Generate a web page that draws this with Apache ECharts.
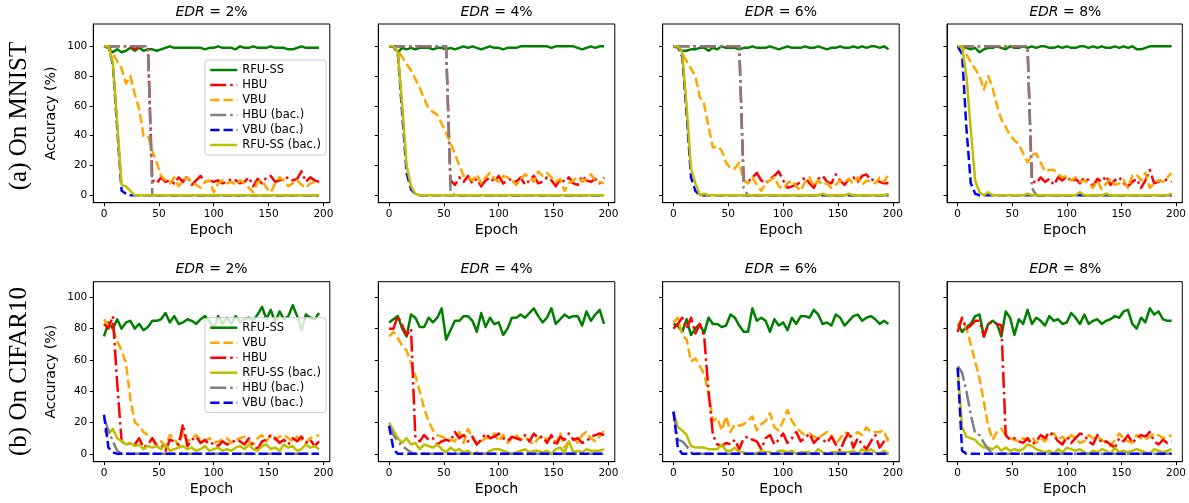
<!DOCTYPE html>
<html>
<head>
<meta charset="utf-8">
<script src="https://cdn.jsdelivr.net/npm/echarts@6/dist/echarts.min.js"></script>
<style>
html,body{margin:0;padding:0;background:#fff;}
#chart{width:1189px;height:503px;}
</style>
</head>
<body>
<div id="chart"></div>
<script>
// ---------- x values (epochs) ----------
const epochs = [0,4,8,12,16,20,24,28,32,36,40,44,48,52,56,60,64,68,72,76,80,84,88,92,96,100,104,108,112,116,120,124,128,132,136,140,144,148,152,156,160,164,168,172,176,180,184,188,192,196];
const xTicks = [0,50,100,150,200];
const yTicks = [0,20,40,60,80,100];
const edrLabels = ['2%','4%','6%','8%'];
const rowLabels = ['(a) On MNIST','(b) On CIFAR10'];
const topOrder = ['RFU-SS','HBU','VBU','HBU (bac.)','VBU (bac.)','RFU-SS (bac.)'];
const botOrder = ['RFU-SS','VBU','HBU','RFU-SS (bac.)','HBU (bac.)','VBU (bac.)'];

// ---------- MNIST, EDR 2% ----------
const m2_rfu = [100,99,96,98,96,97,99,97,99,97, 98,98,97,98,99,100,99,99,99,99, 99,99,99,98,99,99,100,99,99,99, 98,100,99,99,100,99,99,99,100,99, 99,99,98,98,99,100,99,99,99,99];
const m2_hbu = [100,99,100,100,100,100,100,98,100,100, 99,10,8,12,9,10,8,12,9,13, 7,10,13,9,10,9,10,8,9,11, 10,8,9,12,6,11,8,12,13,9, 10,11,12,10,11,16,9,12,10,9];
const m2_vbu = [100,99,95,90,85,75,80,68,58,40, 40,30,22,13,10,8,12,6,10,12, 8,7,5,9,10,2,8,10,8,9, 7,10,8,5,2,9,10,5,2,8, 12,10,6,8,10,7,5,8,9,8];
const m2_hbub = [100,100,100,100,100,100,100,100,100,100, 100,0,0,0,0,0,0,0,0,0, 0,0,0,0,0,0,0,0,0,0, 0,0,0,0,0,0,0,0,0,0, 0,0,0,0,0,0,0,0,0,0];
const m2_vbub = [100,100,88,45,3,1,0,0,0,0, 0,0,0,0,0,0,0,0,0,0, 0,0,0,0,0,0,0,0,0,0, 0,0,0,0,0,0,0,0,0,0, 0,0,0,0,0,0,0,0,0,0];
const m2_rfub = [100,100,89,48,7,6,3,0,0,0, 0,0,0,0,0,0,0,0,0,0, 0,0,0,0,0,0,0,0,0,0, 0,0,0,0,0,0,0,0,0,0, 0,0,0,0,0,0,0,0,0,0];

// ---------- MNIST, EDR 4% ----------
const m4_rfu = [100,100,96,99,98,99,98,99,99,99, 98,99,99,98,99,98,99,100,99,100, 99,98,99,100,99,99,98,99,99,99, 100,100,100,100,100,100,100,99,100,100, 100,100,100,99,98,99,100,99,100,100];
const m4_hbu = [100,100,100,100,100,100,100,100,100,100, 100,100,100,100,10,7,12,9,13,8, 11,6,10,12,9,13,8,10,11,9, 12,7,10,13,8,9,12,10,6,11, 9,12,8,7,13,10,9,11,8,12];
const m4_vbu = [100,100,97,93,88,84,78,72,65,58, 56,54,48,42,35,28,20,13,12,10, 14,8,12,15,11,9,13,12,10,7, 11,14,12,9,16,13,15,12,9,11, 3,8,10,12,9,11,14,10,9,8];
const m4_hbub = [100,100,100,100,100,100,100,100,100,100, 100,100,100,100,3,0,0,0,0,0, 0,0,0,0,0,0,0,0,0,0, 0,0,0,0,0,0,0,0,0,0, 0,0,0,0,0,0,0,0,0,0];
const m4_vbub = [100,100,95,55,15,4,1,0,0,0, 0,0,0,0,0,0,0,0,0,0, 0,0,0,0,0,0,0,0,0,0, 0,0,0,0,0,0,0,0,0,0, 0,0,0,0,0,0,0,0,0,0];
const m4_rfub = [100,100,96,60,20,6,1,0,0,0, 0,0,0,0,0,0,0,0,0,0, 0,0,0,0,0,0,0,0,0,0, 0,0,0,0,0,0,0,0,0,0, 0,0,0,0,0,0,0,0,0,0];

// ---------- MNIST, EDR 6% ----------
const m6_rfu = [100,99,97,97,98,98,99,99,97,99, 98,100,99,99,99,98,99,99,100,99, 99,99,100,99,98,99,100,99,99,99, 100,99,99,100,99,98,99,99,100,99, 99,100,99,100,99,100,100,99,100,98];
const m6_hbu = [100,100,100,100,100,100,100,100,100,100, 100,100,100,100,100,100,10,9,12,15, 10,8,11,13,16,10,5,6,7,9, 12,8,5,11,13,9,8,14,10,7, 11,12,9,13,14,10,11,9,8,8];
const m6_vbu = [100,99,95,90,85,80,66,61,46,32, 33,30,22,18,18,22,10,8,12,7, 3,8,10,12,6,4,8,10,6,3, 9,12,6,10,7,8,5,7,10,9, 11,8,12,7,10,9,8,12,9,14];
const m6_hbub = [100,100,100,100,100,100,100,100,100,100, 100,100,100,100,100,100,5,0,0,0, 0,0,0,0,0,0,0,0,0,0, 0,0,0,0,0,0,0,0,0,0, 0,0,0,0,0,0,0,0,0,0];
const m6_vbub = [100,100,93,55,12,3,0,0,0,0, 0,0,0,0,0,0,0,0,0,0, 0,0,0,0,0,0,0,0,0,0, 0,0,0,0,0,0,0,0,0,0, 0,0,0,0,0,0,0,0,0,0];
const m6_rfub = [100,100,96,60,18,8,0,1,0,0, 0,0,0,0,0,0,0,0,0,0, 0,0,0,0,0,0,0,0,0,0, 0,0,0,0,1,0,0,0,0,0, 1,0,0,0,0,0,0,0,0,1];

// ---------- MNIST, EDR 8% ----------
const m8_rfu = [100,100,99,98,99,96,98,99,99,100, 99,98,100,99,99,100,99,100,99,100, 100,99,99,100,99,100,99,99,100,100, 99,100,99,100,99,99,100,99,100,99, 100,98,98,99,100,100,100,100,100,100];
const m8_hbu = [100,100,100,100,100,100,100,100,100,100, 100,100,100,100,100,100,100,10,8,12, 9,11,7,12,10,13,9,11,8,12, 10,6,11,9,13,7,10,12,8,6, 9,11,5,10,17,8,9,11,10,9];
const m8_vbu = [100,100,95,89,85,80,71,80,72,60, 51,46,40,37,34,28,22,27,28,22, 16,17,17,14,12,13,10,12,9,10, 8,5,10,4,8,11,7,8,10,5, 13,14,10,15,5,8,10,9,12,15];
const m8_hbub = [100,100,100,100,100,100,100,100,100,100, 100,100,100,100,100,100,100,5,0,0, 0,0,0,0,0,0,0,0,0,0, 0,0,0,0,0,0,0,0,0,0, 0,0,0,0,0,0,0,0,0,0];
const m8_vbub = [100,95,45,8,1,0,0,0,0,0, 0,0,0,0,0,0,0,0,0,0, 0,0,0,0,0,0,0,0,0,0, 0,0,0,0,0,0,0,0,0,0, 0,0,0,0,0,0,0,0,0,0];
const m8_rfub = [100,100,80,44,10,2,0,2,0,0, 0,0,0,0,0,0,1,0,0,0, 0,0,0,0,0,0,0,0,2,0, 0,0,0,0,1,0,0,0,0,0, 0,0,0,0,0,0,0,0,0,1];

// ---------- CIFAR10, EDR 2% ----------
const c2_rfu = [75,84,80,86,80,84,85,80,83,79, 81,85,85,86,90,84,88,83,84,86, 85,83,86,88,85,80,88,83,87,83, 88,84,86,87,85,89,94,86,92,84, 91,86,88,95,88,79,89,87,86,90];
const c2_vbu = [86,82,80,72,66,58,35,20,18,14, 12,10,6,8,5,12,10,5,14,8, 10,12,9,8,10,7,8,9,10,7, 9,10,11,8,6,10,12,8,12,9, 11,12,10,8,11,9,7,10,11,12];
const c2_hbu = [83,80,88,45,8,6,7,6,10,4, 6,10,5,6,2,9,8,6,19,5, 9,11,7,9,6,7,5,8,6,7, 9,8,6,10,5,3,8,9,12,10, 7,9,6,10,8,11,7,9,5,8];
const c2_rfub = [15,13,16,10,8,6,7,5,6,3, 5,4,5,3,6,2,3,4,5,3, 4,2,3,5,2,3,4,2,3,2, 4,5,3,6,3,2,5,6,3,4, 2,6,4,5,2,3,6,4,5,3];
const c2_hbub = [23,15,8,2,0,0,0,0,0,0, 0,0,0,0,0,0,0,0,0,0, 0,0,0,0,0,0,0,0,0,0, 0,0,0,0,0,0,0,0,0,0, 0,0,0,0,0,0,0,0,0,0];
const c2_vbub = [25,4,1,0,0,0,0,0,0,0, 0,0,0,0,0,0,0,0,0,0, 0,0,0,0,0,0,0,0,0,0, 0,0,0,0,0,0,0,0,0,0, 0,0,0,0,0,0,0,0,0,0];

// ---------- CIFAR10, EDR 4% ----------
const c4_rfu = [84,86,88,80,75,89,87,81,81,87, 84,87,93,73,79,85,85,88,88,85, 78,90,81,87,83,84,76,80,87,87, 89,87,90,93,88,84,87,93,83,86, 89,87,88,88,82,91,85,89,92,83];
const c4_vbu = [75,78,74,69,66,58,50,40,29,21, 15,12,11,10,9,8,14,7,16,10, 6,8,10,11,13,8,12,7,10,12, 9,11,8,6,10,12,9,11,7,13, 4,8,10,7,12,14,10,8,11,15];
const c4_hbu = [80,80,88,82,76,80,10,8,12,9, 10,6,8,9,8,14,10,12,8,11, 6,9,13,10,11,13,10,8,11,10, 9,12,8,13,10,11,7,12,5,11, 9,13,9,10,7,8,11,12,13,12];
const c4_rfub = [20,15,10,7,10,6,7,3,6,5, 4,6,3,1,4,2,3,1,2,0, 1,0,0,2,3,3,2,1,0,1, 2,3,1,2,2,1,2,0,3,4, 1,8,1,2,1,3,2,2,2,3];
const c4_hbub = [18,12,8,5,3,1,0,0,0,0, 0,0,0,0,0,0,0,0,0,0, 0,0,0,0,0,0,0,0,0,0, 0,0,0,0,0,0,0,0,0,0, 0,0,0,0,0,0,0,0,0,0];
const c4_vbub = [18,3,0,0,0,0,0,0,0,0, 0,0,0,0,0,0,0,0,0,0, 0,0,0,0,0,0,0,0,0,0, 0,0,0,0,0,0,0,0,0,0, 0,0,0,0,0,0,0,0,0,0];

// ---------- CIFAR10, EDR 6% ----------
const c6_rfu = [83,82,78,86,76,80,83,77,87,83, 83,81,82,89,87,82,78,78,93,85, 87,85,78,86,82,84,79,87,83,88, 88,87,92,89,83,84,82,89,87,82, 85,88,89,85,87,88,86,83,85,83];
const c6_vbu = [84,87,76,73,59,61,56,51,38,21, 23,15,24,14,19,18,19,21,24,15, 19,21,26,17,15,21,28,21,17,14, 12,13,11,10,12,14,12,6,10,14, 12,11,14,12,17,14,14,14,15,7];
const c6_hbu = [80,83,87,80,87,77,83,75,40,12, 6,5,7,6,9,3,10,11,9,8, 3,10,12,6,9,13,7,10,14,8, 10,13,7,10,9,7,11,6,2,9, 14,4,10,6,3,8,12,4,8,10];
const c6_rfub = [27,17,15,12,5,4,4,4,3,3, 3,6,2,2,4,1,1,0,0,0, 2,1,1,0,2,2,1,2,0,1, 1,1,0,3,1,0,1,1,1,1, 1,2,0,3,1,3,1,0,2,0];
const c6_hbub = [27,9,8,5,1,0,0,0,0,0, 0,0,0,0,0,0,0,0,0,0, 0,0,0,0,0,0,0,0,0,0, 0,0,0,0,0,0,0,0,0,0, 0,0,0,0,0,0,0,0,0,0];
const c6_vbub = [27,4,0,0,0,0,0,0,0,0, 0,0,0,0,0,0,0,0,0,0, 0,0,0,0,0,0,0,0,0,0, 0,0,0,0,0,0,0,0,0,0, 0,0,0,0,0,0,0,0,0,0];

// ---------- CIFAR10, EDR 8% ----------
const c8_rfu = [83,78,81,83,88,89,75,83,85,83, 75,91,87,76,86,83,92,83,87,85, 82,88,85,86,83,84,90,87,83,89, 83,85,86,83,85,86,88,87,91,92, 83,80,87,84,93,89,91,86,85,85];
const c8_vbu = [82,86,80,70,59,48,33,18,9,14, 16,12,10,9,8,10,9,11,7,10, 8,12,13,9,11,8,12,10,7,8, 12,10,11,9,7,5,9,13,10,8, 7,12,10,9,11,13,12,10,11,12];
const c8_hbu = [78,87,80,82,85,85,75,83,84,83, 82,12,9,10,8,7,10,6,8,12, 10,14,12,8,6,11,7,10,13,12, 8,6,12,7,8,6,4,10,8,12, 7,10,12,11,14,8,6,9,7,8];
const c8_rfub = [55,17,11,10,9,6,4,4,3,5, 2,4,2,3,2,3,6,5,3,2, 1,2,0,3,1,4,3,2,3,1, 0,2,1,3,2,0,4,1,2,1, 2,3,2,1,0,3,2,1,2,3];
const c8_hbub = [56,52,40,25,13,12,7,3,0,0, 0,0,0,0,0,0,0,0,0,0, 0,0,0,0,0,0,0,0,0,0, 0,0,0,0,0,0,0,0,0,0, 0,0,0,0,0,0,0,0,0,0];
const c8_vbub = [55,2,0,0,0,0,0,0,0,0, 0,0,0,0,0,0,0,0,0,0, 0,0,0,0,0,0,0,0,0,0, 0,0,0,0,0,0,0,0,0,0, 0,0,0,0,0,0,0,0,0,0];

// ---------- assembly ----------
const panelData = [
  {'RFU-SS':m2_rfu,'HBU':m2_hbu,'VBU':m2_vbu,'HBU (bac.)':m2_hbub,'VBU (bac.)':m2_vbub,'RFU-SS (bac.)':m2_rfub},
  {'RFU-SS':m4_rfu,'HBU':m4_hbu,'VBU':m4_vbu,'HBU (bac.)':m4_hbub,'VBU (bac.)':m4_vbub,'RFU-SS (bac.)':m4_rfub},
  {'RFU-SS':m6_rfu,'HBU':m6_hbu,'VBU':m6_vbu,'HBU (bac.)':m6_hbub,'VBU (bac.)':m6_vbub,'RFU-SS (bac.)':m6_rfub},
  {'RFU-SS':m8_rfu,'HBU':m8_hbu,'VBU':m8_vbu,'HBU (bac.)':m8_hbub,'VBU (bac.)':m8_vbub,'RFU-SS (bac.)':m8_rfub},
  {'RFU-SS':c2_rfu,'HBU':c2_hbu,'VBU':c2_vbu,'HBU (bac.)':c2_hbub,'VBU (bac.)':c2_vbub,'RFU-SS (bac.)':c2_rfub},
  {'RFU-SS':c4_rfu,'HBU':c4_hbu,'VBU':c4_vbu,'HBU (bac.)':c4_hbub,'VBU (bac.)':c4_vbub,'RFU-SS (bac.)':c4_rfub},
  {'RFU-SS':c6_rfu,'HBU':c6_hbu,'VBU':c6_vbu,'HBU (bac.)':c6_hbub,'VBU (bac.)':c6_vbub,'RFU-SS (bac.)':c6_rfub},
  {'RFU-SS':c8_rfu,'HBU':c8_hbu,'VBU':c8_vbu,'HBU (bac.)':c8_hbub,'VBU (bac.)':c8_vbub,'RFU-SS (bac.)':c8_rfub}
];

const LW = 2.5;
const DASH = [3.7*LW, 1.6*LW];
const DASHDOT = [6.4*LW, 1.6*LW, 1.0*LW, 1.6*LW];
const styles = {
  'RFU-SS': {color:'#008000', type:'solid'},
  'HBU': {color:'#ff0000', type:DASHDOT},
  'VBU': {color:'#ffa500', type:DASH},
  'HBU (bac.)': {color:'#808080', type:DASHDOT},
  'VBU (bac.)': {color:'#0000ff', type:DASH},
  'RFU-SS (bac.)': {color:'#bfbf00', type:'solid'}
};

const FONT = 'DejaVu Sans';
const colLeft = [93.3, 378.3, 662.7, 947];
const gridW = 236.5;
const rowTop = [24, 281.7];
const rowH = [178.7, 180];
const rowYMax = [115, 110];

const grids = [], xAxes = [], yAxes = [], series = [], graphics = [];
for (let p = 0; p < 8; p++) {
  const r = Math.floor(p / 4), c = p % 4;
  grids.push({left: colLeft[c], top: rowTop[r], width: gridW, height: rowH[r],
    show: true, borderColor: '#000', borderWidth: 1, backgroundColor: '#fff', containLabel: false});
  xAxes.push({gridIndex: p, type: 'value', min: -9.8, max: 205.8,
    splitLine: {show: false},
    axisLine: {show: true, onZero: false, lineStyle: {color: '#000', width: 1}},
    axisTick: {show: true, customValues: xTicks, length: 3.5, lineStyle: {color: '#000', width: 1}},
    axisLabel: {show: true, customValues: xTicks, color: '#000', fontSize: 10.5, fontFamily: FONT, margin: 6},
    name: 'Epoch', nameLocation: 'middle', nameGap: 21,
    nameTextStyle: {color: '#000', fontSize: 14.2, fontFamily: FONT}});
  yAxes.push({gridIndex: p, type: 'value', min: -5, max: rowYMax[r],
    splitLine: {show: false},
    axisLine: {show: true, onZero: false, lineStyle: {color: '#000', width: 1}},
    axisTick: {show: true, customValues: yTicks, length: 3.5, lineStyle: {color: '#000', width: 1}},
    axisLabel: {show: c === 0, customValues: yTicks, color: '#000', fontSize: 10.5, fontFamily: FONT, margin: 6},
    name: c === 0 ? 'Accuracy (%)' : '', nameLocation: 'middle', nameGap: 35, nameRotate: 90,
    nameTextStyle: {color: '#000', fontSize: 14.2, fontFamily: FONT}});
  const order = r === 0 ? topOrder : botOrder;
  order.forEach(name => {
    const vals = panelData[p][name];
    series.push({
      type: 'line', name: name, xAxisIndex: p, yAxisIndex: p,
      data: epochs.map((e, j) => [e, vals[j]]),
      symbol: 'none', showSymbol: false, animation: false, clip: true,
      lineStyle: {color: styles[name].color, width: LW, type: styles[name].type, join: 'round', cap: 'butt'},
      itemStyle: {color: styles[name].color}
    });
  });
  graphics.push({type: 'text', x: colLeft[c] + gridW / 2, y: r === 0 ? 12.5 : 269.5,
    style: {text: '{i|EDR} = ' + edrLabels[c], align: 'center', verticalAlign: 'middle',
      fill: '#000', fontSize: 14, fontFamily: FONT,
      rich: {i: {fontStyle: 'italic', fontSize: 14, fontFamily: FONT, fill: '#000'}}}});
}
graphics.push({type: 'text', x: 19, y: 116, rotation: Math.PI / 2,
  style: {text: rowLabels[0], align: 'center', verticalAlign: 'middle', fill: '#000', fontSize: 25, fontFamily: 'Liberation Serif'}});
graphics.push({type: 'text', x: 19, y: 371.5, rotation: Math.PI / 2,
  style: {text: rowLabels[1], align: 'center', verticalAlign: 'middle', fill: '#000', fontSize: 25, fontFamily: 'Liberation Serif'}});

function legendCfg(order, top) {
  return {data: order, left: 205, top: top, orient: 'vertical', selectedMode: false,
    backgroundColor: 'rgba(255,255,255,0.8)', borderColor: '#cccccc', borderWidth: 1, borderRadius: 3,
    padding: [4, 5, 4, 4], itemGap: 3, itemWidth: 27, itemHeight: 14,
    textStyle: {fontSize: 11.5, color: '#000', fontFamily: FONT},
    itemStyle: {color: 'rgba(0,0,0,0)', borderColor: 'rgba(0,0,0,0)', borderWidth: 0},
    lineStyle: {width: LW}};
}

const chart = echarts.init(document.getElementById('chart'), null, {renderer: 'canvas'});
chart.setOption({
  animation: false,
  backgroundColor: '#fff',
  textStyle: {fontFamily: FONT},
  grid: grids, xAxis: xAxes, yAxis: yAxes, series: series,
  legend: [legendCfg(topOrder, 60), legendCfg(botOrder, 317.7)],
  graphic: graphics
});
</script>
</body>
</html>
